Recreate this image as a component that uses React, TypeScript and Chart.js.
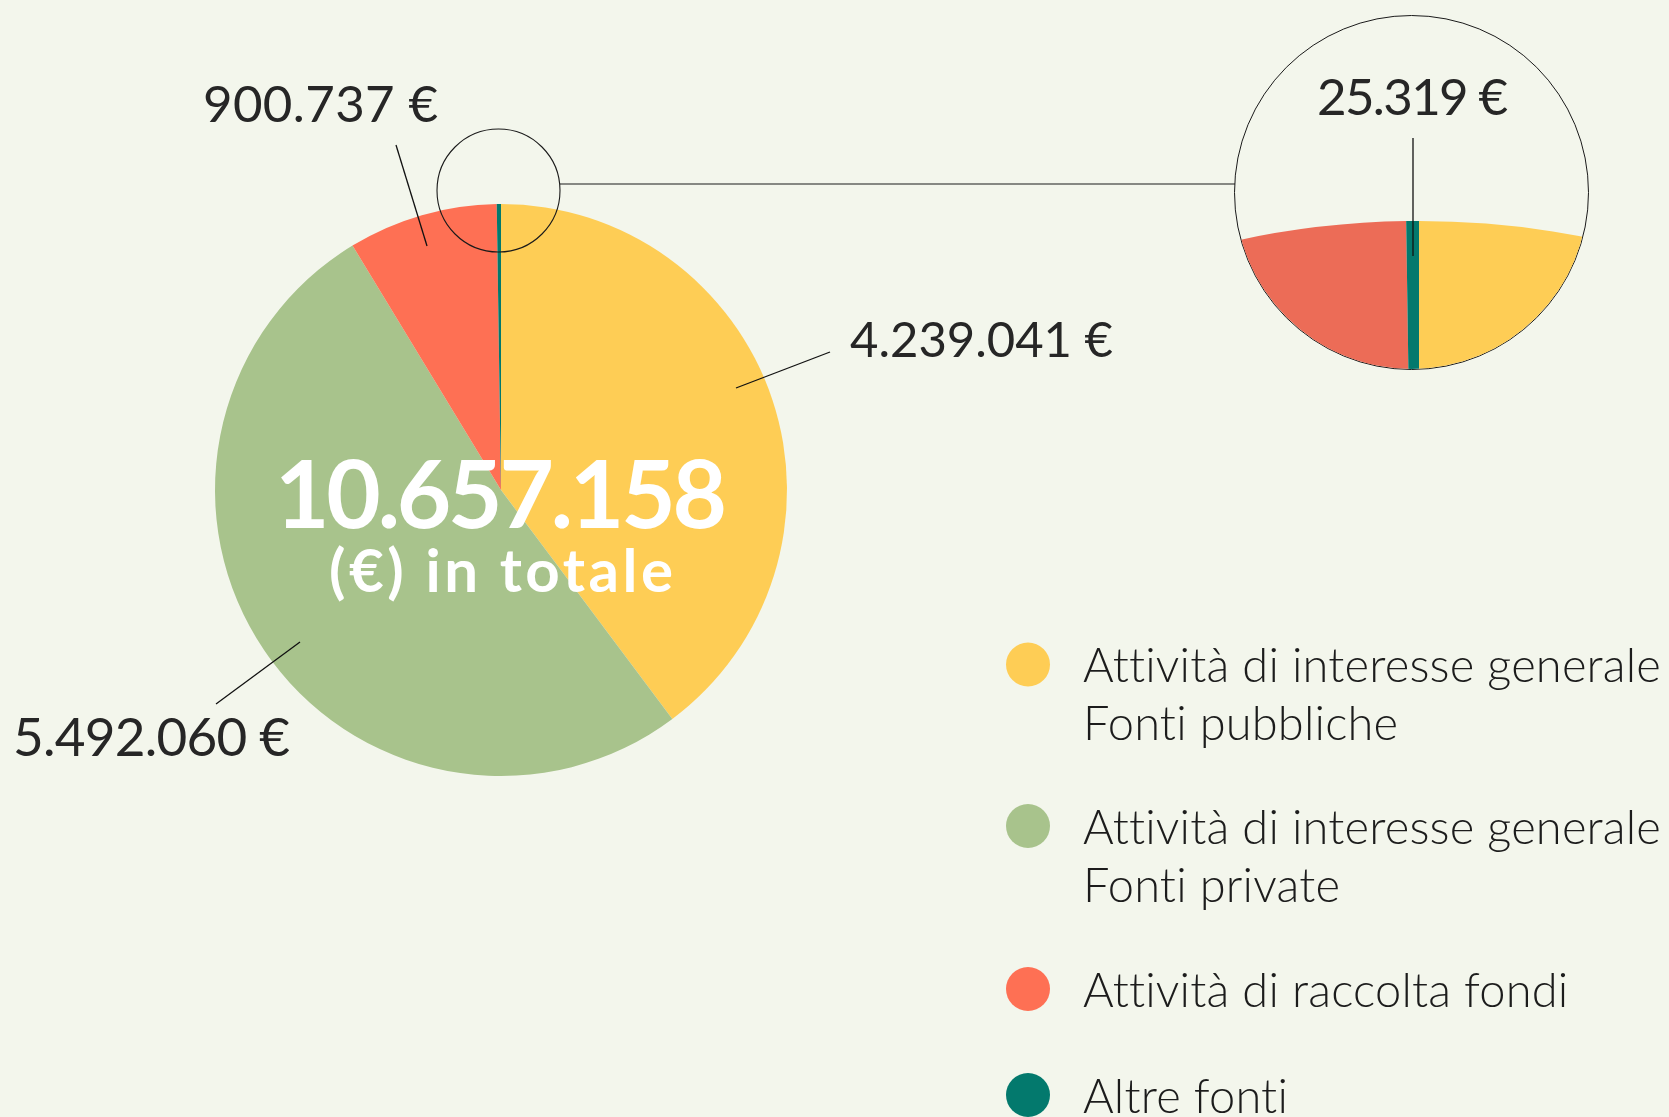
import React, { useEffect, useRef } from "react";
import { Chart, registerables } from "chart.js";
Chart.register(...registerables);

// ---------- data ----------
const categories = [
  "Attività di interesse generale\nFonti pubbliche",
  "Attività di interesse generale\nFonti private",
  "Attività di raccolta fondi",
  "Altre fonti",
];
const values = [4239041, 5492060, 900737, 25319];
const valueLabels = ["4.239.041 €", "5.492.060 €", "900.737 €", "25.319 €"];
const totalLabel = "10.657.158";
const totalSubtitle = "(€) in totale";
const colors = ["#FECD55", "#A8C38C", "#FE7054", "#03796D"];
const zoomColors = ["#FECD55", "#A8C38C", "#EC6C57", "#03796D"];

// ---------- layout ----------
const W = 1669;
const H = 1117;
const BG = "#F3F6EC";
const TEXT = "#262626";
const FONT = "Lato, 'Open Sans', sans-serif";
const PIE_CX = 501;
const PIE_CY = 490;
const PIE_R = 286;

const ZOOM_BOX = { left: 1234, top: 15, size: 355 };
const ZOOM_CX = 1419;
const ZOOM_CY = 1081;
const ZOOM_R = 860;

// value label layout (index into values)
const labelLayout = [
  { i: 0, x: 850, y: 357, w: 263, size: 49, line: [830, 352, 736, 388] },
  { i: 1, x: 13, y: 756, w: 277, size: 53, line: [300, 642, 216, 704] },
  { i: 2, x: 203, y: 122, w: 235, size: 51, line: [396, 145, 427, 246] },
];
const zoomLabel = { i: 3, x: 1317, y: 115, w: 191, size: 51, line: [1413, 138, 1413, 256] };

const legendLayout = {
  dotX: 1028,
  dotR: 22,
  textX: 1083,
  dotY: [664.5, 826, 989, 1095],
  lineH: 58,
  size: 47,
  fitText: "Attività di interesse generale",
  fitW: 577,
};

function drawSpaced(
  ctx: CanvasRenderingContext2D,
  text: string,
  x: number,
  y: number,
  target: number | null,
  align: "left" | "center",
  forcedLs?: number
) {
  const c: any = ctx;
  if ("letterSpacing" in c) c.letterSpacing = "0px";
  ctx.textAlign = "left";
  const w = ctx.measureText(text).width;
  const chars = [...text];
  const n = chars.length;
  let ls = forcedLs !== undefined ? forcedLs : target ? (target - w) / (n - 1) : 0;
  const total = w + ls * (n - 1);
  const left = align === "center" ? x - total / 2 : x;
  if ("letterSpacing" in c) {
    c.letterSpacing = ls + "px";
    ctx.fillText(text, left, y);
    c.letterSpacing = "0px";
  } else {
    let cx = left;
    for (const ch of chars) {
      ctx.fillText(ch, cx, y);
      cx += ctx.measureText(ch).width + ls;
    }
  }
  return ls;
}

function line(ctx: CanvasRenderingContext2D, l: number[], dx = 0, dy = 0) {
  ctx.beginPath();
  ctx.moveTo(l[0] + dx, l[1] + dy);
  ctx.lineTo(l[2] + dx, l[3] + dy);
  ctx.stroke();
}

const overlayPlugin = {
  id: "overlay",
  afterDraw(chart: any) {
    const ctx: CanvasRenderingContext2D = chart.ctx;
    ctx.save();
    // leader lines + value labels
    ctx.strokeStyle = "#111";
    ctx.lineWidth = 1.3;
    ctx.fillStyle = TEXT;
    ctx.textBaseline = "alphabetic";
    for (const l of labelLayout) {
      line(ctx, l.line);
      ctx.font = `400 ${l.size}px ${FONT}`;
      drawSpaced(ctx, valueLabels[l.i], l.x, l.y, l.w, "left");
    }
    // center total
    ctx.fillStyle = "#FFFFFF";
    ctx.font = `700 94px ${FONT}`;
    drawSpaced(ctx, totalLabel, PIE_CX, 528, 452, "center");
    ctx.font = `700 60px ${FONT}`;
    drawSpaced(ctx, totalSubtitle, PIE_CX, 592, 344, "center");

    // magnifier small circle + connector
    ctx.strokeStyle = "#1a1a1a";
    ctx.lineWidth = 1.1;
    ctx.beginPath();
    ctx.arc(498.5, 190.5, 61.5, 0, Math.PI * 2);
    ctx.stroke();
    ctx.beginPath();
    ctx.moveTo(560, 184);
    ctx.lineTo(ZOOM_BOX.left + 1, 184);
    ctx.stroke();

    // legend
    ctx.font = `300 ${legendLayout.size}px ${FONT}`;
    const c: any = ctx;
    if ("letterSpacing" in c) c.letterSpacing = "0px";
    const fw = ctx.measureText(legendLayout.fitText).width;
    const ls = (legendLayout.fitW - fw) / ([...legendLayout.fitText].length - 1);
    categories.forEach((cat, k) => {
      const cy = legendLayout.dotY[k];
      ctx.fillStyle = colors[k];
      ctx.beginPath();
      ctx.arc(legendLayout.dotX, cy, legendLayout.dotR, 0, Math.PI * 2);
      ctx.fill();
      ctx.fillStyle = "#1c1c1c";
      cat.split("\n").forEach((t, j) => {
        drawSpaced(ctx, t, legendLayout.textX, cy + 17.5 + j * legendLayout.lineH, null, "left", ls);
      });
    });
    ctx.restore();
  },
};

const zoomPlugin = {
  id: "zoomLabel",
  afterDraw(chart: any) {
    const ctx: CanvasRenderingContext2D = chart.ctx;
    const dx = -(ZOOM_BOX.left + 1);
    const dy = -(ZOOM_BOX.top + 1);
    ctx.save();
    ctx.strokeStyle = "#111";
    ctx.lineWidth = 1.3;
    line(ctx, zoomLabel.line, dx, dy);
    ctx.fillStyle = TEXT;
    ctx.font = `400 ${zoomLabel.size}px ${FONT}`;
    drawSpaced(ctx, valueLabels[zoomLabel.i], zoomLabel.x + dx, zoomLabel.y + dy, zoomLabel.w, "left");
    ctx.restore();
  },
};

export default function App() {
  const mainRef = useRef<HTMLCanvasElement>(null);
  const zoomRef = useRef<HTMLCanvasElement>(null);

  const zoomW = 2 * (ZOOM_CX - ZOOM_BOX.left - 1);
  const zoomH = 2 * (ZOOM_CY - ZOOM_BOX.top - 1);

  useEffect(() => {
    document.body.style.margin = "0";
    document.body.style.background = BG;
    const main = new Chart(mainRef.current as HTMLCanvasElement, {
      type: "pie",
      data: {
        labels: categories,
        datasets: [{ data: values, backgroundColor: colors, borderWidth: 0, radius: PIE_R } as any],
      },
      options: {
        responsive: false,
        animation: false,
        events: [],
        radius: PIE_R,
        layout: { padding: { left: 0, top: 0, right: W - 2 * PIE_CX, bottom: H - 2 * PIE_CY } },
        plugins: { legend: { display: false }, tooltip: { enabled: false } },
      } as any,
      plugins: [overlayPlugin],
    });
    const zoom = new Chart(zoomRef.current as HTMLCanvasElement, {
      type: "pie",
      data: {
        labels: categories,
        datasets: [{ data: values, backgroundColor: zoomColors, borderWidth: 0, radius: ZOOM_R } as any],
      },
      options: {
        responsive: false,
        animation: false,
        events: [],
        radius: ZOOM_R,
        layout: { padding: 0 },
        plugins: { legend: { display: false }, tooltip: { enabled: false } },
      } as any,
      plugins: [zoomPlugin],
    });
    return () => {
      main.destroy();
      zoom.destroy();
    };
  }, []);

  return (
    <div style={{ position: "relative", width: W, height: H, overflow: "hidden", background: BG }}>
      <canvas ref={mainRef} width={W} height={H} style={{ position: "absolute", left: 0, top: 0 }} />
      <div
        style={{
          position: "absolute",
          left: ZOOM_BOX.left,
          top: ZOOM_BOX.top,
          width: ZOOM_BOX.size,
          height: ZOOM_BOX.size,
          borderRadius: "50%",
          border: "1px solid #1a1a1a",
          boxSizing: "border-box",
          overflow: "hidden",
        }}
      >
        <canvas ref={zoomRef} width={zoomW} height={zoomH} style={{ position: "absolute", left: 0, top: 0 }} />
      </div>
    </div>
  );
}
